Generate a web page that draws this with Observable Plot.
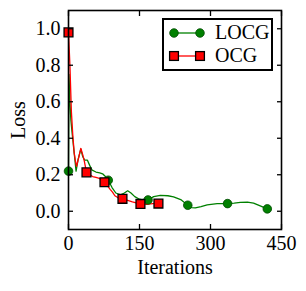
<!DOCTYPE html>
<html>
<head>
<meta charset="utf-8">
<script src="https://cdn.jsdelivr.net/npm/d3@7"></script>
<script src="https://cdn.jsdelivr.net/npm/@observablehq/plot@0.6"></script>
<style>
  html, body { margin: 0; padding: 0; background: #fff; }
  #wrap { position: relative; width: 306px; height: 291px; font-family: "Liberation Serif", "DejaVu Serif", serif; }
  #legend { position: absolute; left: 162px; top: 18px; width: 107px; height: 49px; border: 2px solid #000; background: #fff; }
  .row { position: absolute; left: 0; height: 20px; }
  .row svg { position: absolute; left: 0; top: 0; }
  .row span { position: absolute; left: 51px; top: -1px; font-size: 20px; line-height: 20px; color: #000; }
</style>
</head>
<body>
<div id="wrap"></div>
<script>
// LOCG series (iterations, loss)
const locgIter = [0,1,3,5,8,12,16,20,26,30,34,40,45,50,58,66,72,78,84,92,100,110,118,125,132,140,150,160,168,180,194,210,222,237,252,260,268,280,293,314,336,350,363,378,391,405,420];
const locgLoss = [0.22,0.75,0.6,0.5,0.42,0.32,0.22,0.28,0.34,0.3,0.28,0.28,0.25,0.225,0.215,0.21,0.205,0.19,0.17,0.13,0.1,0.09,0.1,0.112,0.1,0.08,0.066,0.06,0.062,0.08,0.087,0.085,0.079,0.064,0.033,0.02,0.018,0.025,0.035,0.042,0.042,0.045,0.049,0.05,0.045,0.03,0.013];
const locgMarks = [0,84,168,252,336,420];

// OCG series
const ocgIter = [0,3,6,9,12,15,17,22,26,30,33,38,45,51,58,65,72,76,82,88,93,98,104,114,125,135,145,152,165,178,190];
const ocgLoss = [0.98,0.8,0.55,0.42,0.32,0.27,0.246,0.3,0.345,0.31,0.28,0.213,0.2,0.19,0.185,0.18,0.17,0.159,0.14,0.12,0.105,0.085,0.075,0.068,0.06,0.052,0.045,0.04,0.038,0.042,0.042];
const ocgMarks = [0,38,76,114,152,190];

const xTicks = [0,150,300,450];
const yTicks = [0.0,0.2,0.4,0.6,0.8,1.0];
const seriesNames = ["LOCG","OCG"];

const locg = locgIter.map((x,i) => ({x, y: locgLoss[i]}));
const ocg = ocgIter.map((x,i) => ({x, y: ocgLoss[i]}));
const locgM = locg.filter(d => locgMarks.includes(d.x));
const ocgM = ocg.filter(d => ocgMarks.includes(d.x));

const chart = Plot.plot({
  width: 306,
  height: 291,
  marginLeft: 68,
  marginRight: 25,
  marginTop: 10,
  marginBottom: 62,
  style: {fontFamily: '"Liberation Serif", "DejaVu Serif", serif', fontSize: "20px", background: "white", color: "black"},
  x: {domain: [0,450]},
  y: {domain: [-0.1,1.1]},
  marks: [
    Plot.line(locg, {x:"x", y:"y", stroke:"#008000", strokeWidth:1.3}),
    Plot.line(ocg, {x:"x", y:"y", stroke:"#ff0000", strokeWidth:1.3}),
    Plot.dot(locgM, {x:"x", y:"y", r:4.3, fill:"#008000", stroke:"#004a00", strokeWidth:0.8}),
    Plot.dot(ocgM, {x:"x", y:"y", r:5, symbol:"square", fill:"#ff0000", stroke:"#000", strokeWidth:1.3}),
    Plot.axisX({anchor:"bottom", ticks:xTicks, tickSize:-5, tickPadding:11.5, tickFormat: d => String(d), label:"Iterations", labelAnchor:"center", labelArrow:"none", labelOffset:44, strokeWidth:1.3}),
    Plot.axisX({anchor:"top", ticks:xTicks, tickSize:-5, tickFormat: () => "", label:null, strokeWidth:1.3}),
    Plot.axisY({anchor:"left", ticks:yTicks, tickSize:-5, tickPadding:13, tickFormat: d3.format(".1f"), label:"Loss", labelAnchor:"center", labelArrow:"none", labelOffset:58, strokeWidth:1.3}),
    Plot.axisY({anchor:"right", ticks:yTicks, tickSize:-5, tickFormat: () => "", label:null, strokeWidth:1.3}),
    Plot.frame({stroke:"#000", strokeWidth:1.6})
  ]
});
const wrap = document.getElementById("wrap");
wrap.appendChild(chart);

// legend overlay
const legend = document.createElement("div");
legend.id = "legend";
const specs = [
  {name: seriesNames[0], color:"#008000", edge:"#004a00", shape:"circle", top:3},
  {name: seriesNames[1], color:"#ff0000", edge:"#000", shape:"square", top:26}
];
for (const s of specs) {
  const row = document.createElement("div");
  row.className = "row";
  row.style.top = s.top + "px";
  const ns = "http://www.w3.org/2000/svg";
  const svg = document.createElementNS(ns, "svg");
  svg.setAttribute("width", 45); svg.setAttribute("height", 20);
  const line = document.createElementNS(ns, "line");
  line.setAttribute("x1", 10); line.setAttribute("x2", 36);
  line.setAttribute("y1", 10); line.setAttribute("y2", 10);
  line.setAttribute("stroke", s.color); line.setAttribute("stroke-width", 1.3);
  svg.appendChild(line);
  for (const cx of [10,36]) {
    let m;
    if (s.shape === "circle") {
      m = document.createElementNS(ns, "circle");
      m.setAttribute("cx", cx); m.setAttribute("cy", 10); m.setAttribute("r", 4.3);
      m.setAttribute("stroke-width", 0.8);
    } else {
      m = document.createElementNS(ns, "rect");
      m.setAttribute("x", cx-4.4); m.setAttribute("y", 5.6); m.setAttribute("width", 8.8); m.setAttribute("height", 8.8);
      m.setAttribute("stroke-width", 1.3);
    }
    m.setAttribute("fill", s.color); m.setAttribute("stroke", s.edge);
    svg.appendChild(m);
  }
  row.appendChild(svg);
  const t = document.createElement("span");
  t.textContent = s.name;
  row.appendChild(t);
  legend.appendChild(row);
}
wrap.appendChild(legend);
</script>
</body>
</html>
